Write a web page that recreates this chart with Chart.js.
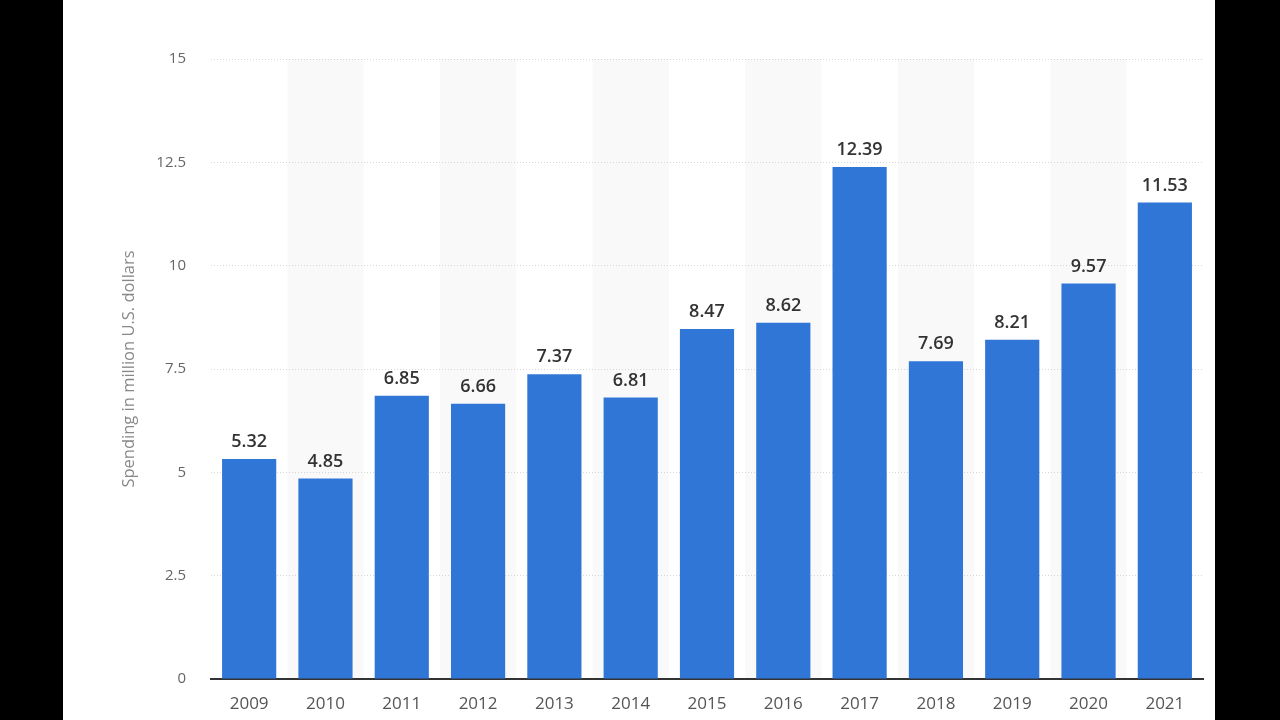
<!DOCTYPE html>
<html>
<head>
<meta charset="utf-8">
<script src="https://cdn.jsdelivr.net/npm/chart.js@4"></script>
<style>
html,body{margin:0;padding:0;background:#000;width:1280px;height:720px;overflow:hidden;}
#wrap{position:absolute;left:63px;top:0;width:1152px;height:720px;background:#fff;}
canvas{display:block;}
</style>
</head>
<body>
<div id="wrap"><canvas id="c" width="1152" height="720"></canvas></div>
<script>
const categories = ['2009','2010','2011','2012','2013','2014','2015','2016','2017','2018','2019','2020','2021'];
const spending = [5.32, 4.85, 6.85, 6.66, 7.37, 6.81, 8.47, 8.62, 12.39, 7.69, 8.21, 9.57, 11.53];
const yTicks = [0, 2.5, 5, 7.5, 10, 12.5, 15];
const yTitle = 'Spending in million U.S. dollars';

const FONT = '"Open Sans", "Noto Sans", sans-serif';

const bandPlugin = {
  id: 'bands',
  beforeDraw(chart) {
    const {ctx, chartArea, scales} = chart;
    const x = scales.x;
    const half = x.width / categories.length / 2;
    ctx.save();
    ctx.fillStyle = '#f9f9f9';
    for (let i = 1; i < categories.length; i += 2) {
      const c = x.getPixelForValue(i);
      ctx.fillRect(c - half, chartArea.top, half * 2, chartArea.bottom - chartArea.top);
    }
    ctx.restore();
  }
};

const labelPlugin = {
  id: 'valueLabels',
  afterDatasetsDraw(chart) {
    const {ctx} = chart;
    const meta = chart.getDatasetMeta(0);
    ctx.save();
    ctx.font = '600 18px ' + FONT;
    ctx.fillStyle = '#333';
    ctx.textAlign = 'center';
    ctx.textBaseline = 'bottom';
    meta.data.forEach((bar, i) => {
      const p = bar.getProps(['x','y'], true);
      ctx.fillText(spending[i].toFixed(2), p.x, p.y - 8);
    });
    ctx.restore();
  }
};

new Chart(document.getElementById('c'), {
  type: 'bar',
  data: {
    labels: categories,
    datasets: [{
      data: spending,
      backgroundColor: '#2f76d7',
      borderWidth: 0,
      barPercentage: 0.71,
      categoryPercentage: 1.0
    }]
  },
  options: {
    responsive: false,
    animation: false,
    devicePixelRatio: 1,
    layout: { padding: { top: 59, right: 12, left: 0, bottom: 0 } },
    plugins: { legend: { display: false }, tooltip: { enabled: false } },
    scales: {
      x: {
        grid: { display: false, drawTicks: false },
        border: { display: true, color: '#333', width: 2 },
        ticks: { color: '#555', font: { family: FONT, size: 17 }, padding: 15 },
        afterFit(s) { s.height = 41; }
      },
      y: {
        min: 0, max: 15,
        afterBuildTicks(s) { s.ticks = yTicks.map(v => ({ value: v })); },
        grid: { color: '#d6d6d6', drawTicks: false, lineWidth: 1 },
        border: { display: false, dash: [1, 2] },
        ticks: { color: '#666', font: { family: FONT, size: 15 }, padding: 25,
                 callback: v => String(v) },
        title: { display: true, text: yTitle, color: '#888', font: { family: FONT, size: 16.5 },
                 padding: { top: 56, bottom: 0 } },
        afterFit(s) { s.width = 148; }
      }
    }
  },
  plugins: [bandPlugin, labelPlugin]
});
</script>
</body>
</html>
